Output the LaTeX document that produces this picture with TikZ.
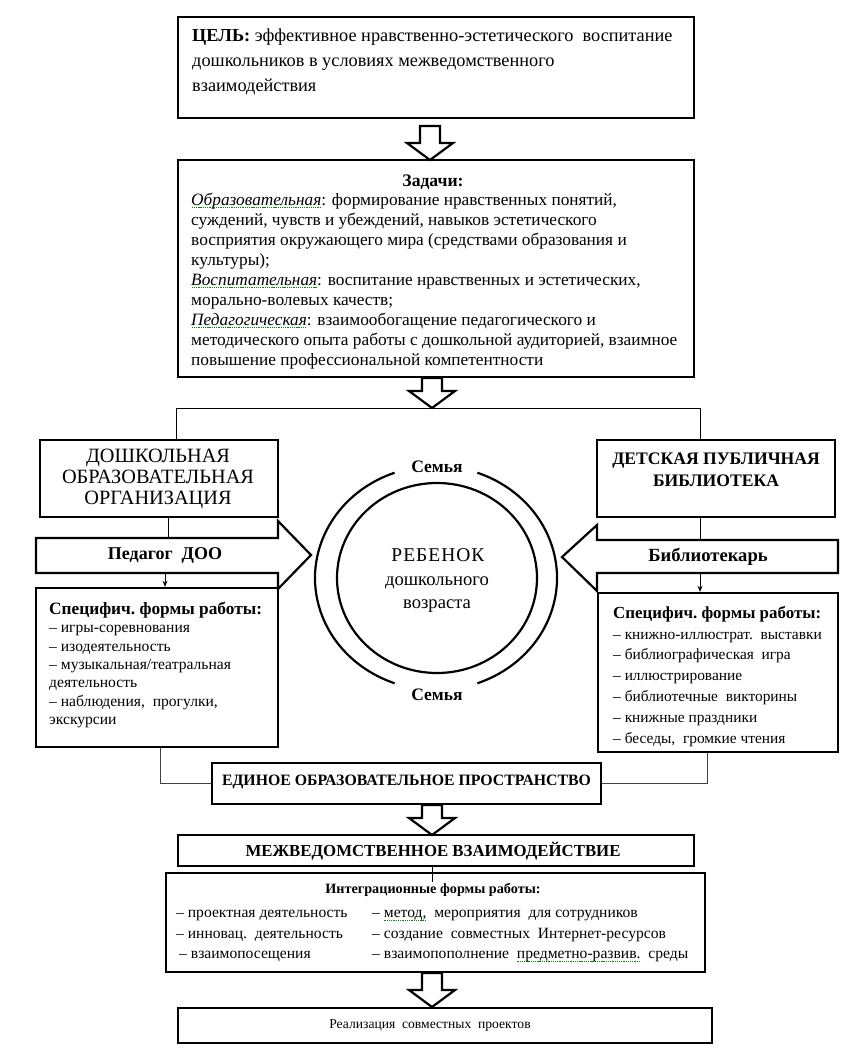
\documentclass[tikz,border=0pt]{standalone}
\usepackage{fontspec}
\setmainfont{Liberation Serif}
\usetikzlibrary{calc,shapes.geometric,arrows.meta}
\newsavebox\gulbox
\newcommand\gul[1]{\sbox\gulbox{#1}\rlap{\raisebox{-3.2pt}{\color{green!55!black}\hbox to \wd\gulbox{\xleaders\hbox to 2.2pt{\hss\rule{1.3pt}{0.8pt}\hss}\hfill}}}\usebox\gulbox}
\tikzset{
  box/.style={draw,line width=2.4pt,inner sep=0pt},
  thinline/.style={draw,line width=0.9pt},
  blockarrow/.style={draw,line width=2.2pt,fill=white,line join=miter},
  txt/.style={inner sep=0pt,align=left,anchor=north west},
  ctxt/.style={inner sep=0pt,align=center},
  hdown/.pic={\draw[line width=2.2pt,fill=white,line join=miter]
     (-10,0) -- (10,0) -- (10,{#1-17}) -- (23,{#1-17}) -- (0,#1) -- (-23,{#1-17}) -- (-10,{#1-17}) -- cycle;}
}
\begin{document}
\begin{tikzpicture}[x=1pt,y=-1pt]
\useasboundingbox (0,0) rectangle (856,1048);

% goal
\node[box,minimum width=516pt,minimum height=101pt] (goal) at (436,67.5) {};
\node[txt,font=\fontsize{18.3}{25}\selectfont] (goaltxt) at (192,29)
 {\textbf{ЦЕЛЬ:} эффективное нравственно-эстетического\ \ воспитание\\
  дошкольников в условиях межведомственного\\
  взаимодействия};
\pic at (430,126) {hdown=34};

% tasks
\node[box,minimum width=516pt,minimum height=217pt] (tasks) at (436,268.5) {};
\node[ctxt,font=\fontsize{17.6}{20}\selectfont\bfseries] (taskhead) at (433,182) {Задачи:};
\node[txt,font=\fontsize{17.3}{20}\selectfont] (tasktxt) at (191,192.5)
 {\gul{\textit{Образовательная}}: формирование нравственных понятий,\\
  суждений, чувств и убеждений, навыков эстетического\\
  восприятия окружающего мира (средствами образования и\\
  культуры);\\
  \gul{\textit{Воспитательная}}: воспитание нравственных и эстетических,\\
  морально-волевых качеств;\\
  \gul{\textit{Педагогическая}}: взаимообогащение педагогического и\\
  методического опыта работы с дошкольной аудиторией, взаимное\\
  повышение профессиональной компетентности};
\pic at (432,378) {hdown=30};

% organisations
\node[box,minimum width=238pt,minimum height=77pt] (org) at (159,478.5) {};
\node[ctxt,font=\fontsize{20.3}{21}\selectfont] (orgtxt) at (158,479)
 {ДОШКОЛЬНАЯ\\ОБРАЗОВАТЕЛЬНАЯ\\ОРГАНИЗАЦИЯ};
\node[box,minimum width=238pt,minimum height=77pt] (lib) at (716,478.5) {};
\node[ctxt,font=\fontsize{17.6}{22}\selectfont\bfseries] (libtxt) at (716,470)
 {ДЕТСКАЯ ПУБЛИЧНАЯ\\БИБЛИОТЕКА};

\coordinate (tl) at (176,408);
\coordinate (tr) at (700,408);
\draw[thinline] (tl |- org.north) -- (tl) -- (tr) -- (tr |- lib.north);

% block arrows
\draw[blockarrow] (36,538) -- (278,538) -- (278,521) -- (311,555) -- (278,589) -- (278,573) -- (36,573) -- cycle;
\node[ctxt,font=\fontsize{18}{18}\selectfont\bfseries] (ped) at (165,555) {Педагог\ \ ДОО};
\draw[blockarrow] (838,540) -- (597,540) -- (597,525) -- (562,557) -- (597,591) -- (597,573) -- (838,573) -- cycle;
\node[ctxt,font=\fontsize{18.6}{18}\selectfont\bfseries] (bibl) at (708,557) {Библиотекарь};

\coordinate (pedtop) at (168,538);
\coordinate (pedbot) at (165,573);
\coordinate (bibtop) at (700,540);
\coordinate (bibbot) at (700,573);

% forms boxes
\node[box,minimum width=242pt,minimum height=159pt] (lf) at (157,667.5) {};
\node[box,minimum width=240pt,minimum height=159pt] (rf) at (718,672.5) {};
\draw[thinline] (org.south -| pedtop) -- (pedtop);
\draw[thinline,-{Stealth[length=6pt,width=5pt]}] (pedbot) -- (pedbot |- lf.north);
\draw[thinline] (lib.south -| bibtop) -- (bibtop);
\draw[thinline,-{Stealth[length=6pt,width=5pt]}] (bibbot) -- (bibbot |- rf.north);

\node[txt,font=\fontsize{15.6}{18.3}\selectfont] (lftxt) at (49,602)
 {{\fontsize{17.3}{18.3}\selectfont\bfseries Специфич.\ формы работы:}\\
  – игры-соревнования\\
  – изодеятельность\\
  – музыкальная/театральная\\
  деятельность\\
  – наблюдения,\ \ прогулки,\\
  экскурсии};
\node[txt,font=\fontsize{15.4}{20.8}\selectfont] (rftxt) at (613,606)
 {{\fontsize{16.9}{20.8}\selectfont\bfseries Специфич.\ формы работы:}\\
  – книжно-иллюстрат.\ \ выставки\\
  – библиографическая\ \ игра\\
  – иллюстрирование\\
  – библиотечные\ \ викторины\\
  – книжные праздники\\
  – беседы,\ \ громкие чтения};

% child circle
\draw[line width=2.2pt] (436,578) ++(70:121pt and 112pt) arc[start angle=70,end angle=-70,x radius=121pt,y radius=112pt];
\draw[line width=2.2pt] (436,578) ++(110:121pt and 112pt) arc[start angle=110,end angle=250,x radius=121pt,y radius=112pt];
\node[draw,ellipse,line width=2.2pt,minimum width=200pt,minimum height=190pt,inner sep=0pt] (child) at (437,578) {};
\node[ctxt,font=\fontsize{19.5}{22}\selectfont] (childa) at (438,555) {Р\kern1ptЕ\kern1ptБ\kern1ptЕ\kern1ptН\kern1ptО\kern1ptК};
\node[ctxt,font=\fontsize{18.6}{23}\selectfont] (childb) at (437,595) {дошкольного\\возраста};
\node[ctxt,font=\fontsize{17.5}{16}\selectfont\bfseries] (fam1) at (437,467) {Семья};
\node[ctxt,font=\fontsize{17.5}{16}\selectfont\bfseries] (fam2) at (437,695) {Семья};

% unified space
\node[box,minimum width=389pt,minimum height=41pt] (edin) at (406.5,783.5) {};
\node[ctxt,font=\fontsize{15.8}{18}\selectfont\bfseries] (edintxt) at (406.5,782) {ЕДИНОЕ ОБРАЗОВАТЕЛЬНОЕ ПРОСТРАНСТВО};
\coordinate (lx) at (160,0);
\coordinate (rx) at (707,0);
\draw[thinline,draw=black!75] (lf.south -| lx) |- (edin.west);
\draw[thinline,draw=black!75] (rf.south -| rx) |- (edin.east);
\pic at (432,805) {hdown=30};

% interagency
\node[box,minimum width=516pt,minimum height=31pt] (mezh) at (436,850.5) {};
\node[ctxt,font=\fontsize{16.8}{18}\selectfont\bfseries] (mezhtxt) at (433,851) {МЕЖВЕДОМСТВЕННОЕ ВЗАИМОДЕЙСТВИЕ};
\node[box,minimum width=539pt,minimum height=99pt] (integ) at (435.5,922.5) {};
\coordinate (mx) at (432,0);
\draw[thinline] (mezh.south -| mx) -- ($(integ.north -| mx)+(0,12)$);
\node[ctxt,font=\fontsize{14.2}{16}\selectfont\bfseries,fill=white,inner sep=1pt] (integhead) at (433,890) {Интеграционные формы работы:};
\node[txt,font=\fontsize{15.6}{20.5}\selectfont] (integl) at (176,910)
 {– проектная деятельность\\
  – инновац.\ \ деятельность\\
  \hspace{3pt}– взаимопосещения};
\node[txt,font=\fontsize{15.6}{20.5}\selectfont] (integr) at (372,910)
 {– \gul{метод,}\ \ мероприятия\ \ для сотрудников\\
  – создание\ \ совместных\ \ Интернет-ресурсов\\
  – взаимопополнение\ \ \gul{предметно-развив.}\ \ среды};
\pic at (432,973) {hdown=34};

% realisation
\node[box,minimum width=534pt,minimum height=35pt] (real) at (445,1025.5) {};
\node[ctxt,font=\fontsize{13.6}{15}\selectfont] (realtxt) at (430,1025) {Реализация\ \ совместных\ \ проектов};
\end{tikzpicture}
\end{document}
